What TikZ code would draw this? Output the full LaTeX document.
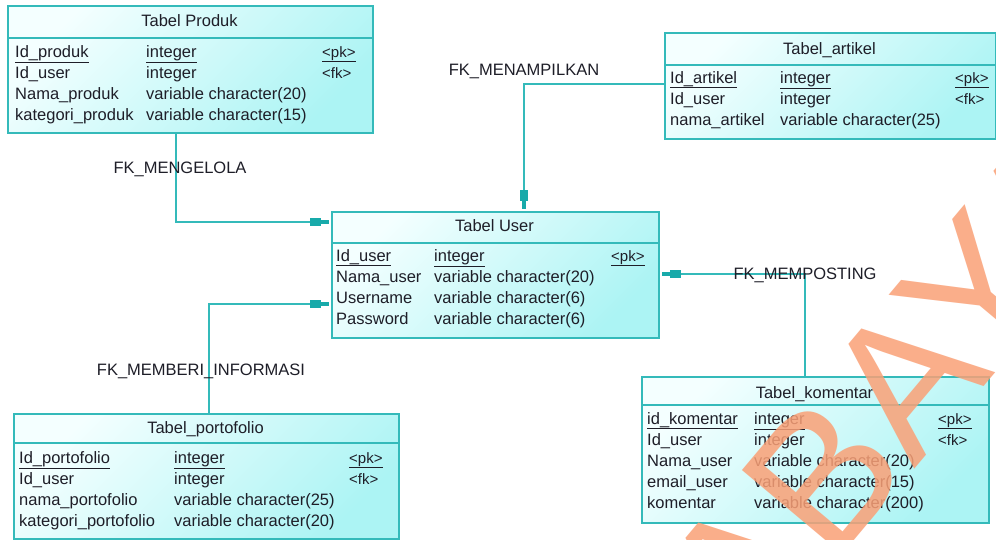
\documentclass[tikz,border=0pt]{standalone}
\usepackage{fontspec}
\setmainfont{Liberation Sans}
\usetikzlibrary{arrows.meta}

\definecolor{erline}{RGB}{52,186,186}
\definecolor{erarrow}{RGB}{24,170,170}
\definecolor{erfilltop}{RGB}{244,255,255}
\definecolor{erfillbot}{RGB}{172,244,244}
\definecolor{ertext}{RGB}{30,30,40}
\definecolor{wmorange}{RGB}{250,160,118}

\begin{document}
\begin{tikzpicture}[x=1pt,y=-1pt,font=\fontsize{16.5}{21}\selectfont]
    % `entity' is the shaded box of one table.
    % `rows' holds the columns of a table, set at the first baseline.
    % `fk' is used for the foreign key connectors.
    \tikzstyle{entity} = [draw=erline,line width=1.6pt,top color=erfilltop,bottom color=erfillbot,shading angle=45,anchor=north west,inner sep=0pt]
    \tikzstyle{headline} = [draw=erline,line width=1.6pt]
    \tikzstyle{title} = [anchor=base,text=ertext,inner sep=0pt]
    \tikzstyle{rows} = [anchor=base west,text=ertext,inner sep=0pt]
    \tikzstyle{fklabel} = [anchor=base,text=ertext,inner sep=0pt]
    \tikzstyle{fk} = [draw=erline,line width=1.6pt,shorten >=2pt,
      -{Rectangle[length=11pt,width=8pt,color=erarrow]Rectangle[length=8pt,width=4pt,color=erarrow]}]
    \tikzstyle{watermark} = [text=wmorange,opacity=0.85,rotate=50,inner sep=0pt,font=\fontsize{190}{190}\selectfont]
    %
    \useasboundingbox (0,0) rectangle (996,539);
    \clip (0,0) rectangle (996,539);
    \fill[white] (0,0) rectangle (996,539);

    % Tabel Produk
    \node[entity,minimum width=365pt,minimum height=127pt] (produk) at (7,5) {};
    \draw[headline] (produk.west |- 0,38) -- (produk.east |- 0,38);
    \node[title] (produk-title) at (189.5,26) {Tabel Produk};
    \node[rows] (produk-rows) at (15,57) {\begin{tabular}[t]{@{}p{131pt}@{}p{176pt}@{}l@{}}
      \underline{Id\_produk} & \underline{integer} & {\fontsize{15}{21}\selectfont\underline{<pk>}} \\
      Id\_user & integer & {\fontsize{15}{21}\selectfont <fk>} \\
      Nama\_produk & variable character(20) & \\
      kategori\_produk & variable character(15) &
    \end{tabular}};

    % Tabel_artikel
    \node[entity,minimum width=331pt,minimum height=106pt] (artikel) at (664,32) {};
    \draw[headline] (artikel.west |- 0,65) -- (artikel.east |- 0,65);
    \node[title] (artikel-title) at (829.5,54) {Tabel\_artikel};
    \node[rows] (artikel-rows) at (670,83) {\begin{tabular}[t]{@{}p{110pt}@{}p{175pt}@{}l@{}}
      \underline{Id\_artikel} & \underline{integer} & {\fontsize{15}{21}\selectfont\underline{<pk>}} \\
      Id\_user & integer & {\fontsize{15}{21}\selectfont <fk>} \\
      nama\_artikel & variable character(25) &
    \end{tabular}};

    % Tabel User
    \node[entity,minimum width=327pt,minimum height=126pt] (user) at (331,211) {};
    \draw[headline] (user.west |- 0,243) -- (user.east |- 0,243);
    \node[title] (user-title) at (494.5,231) {Tabel User};
    \node[rows] (user-rows) at (336,261) {\begin{tabular}[t]{@{}p{98pt}@{}p{177pt}@{}l@{}}
      \underline{Id\_user} & \underline{integer} & {\fontsize{15}{21}\selectfont\underline{<pk>}} \\
      Nama\_user & variable character(20) & \\
      Username & variable character(6) & \\
      Password & variable character(6) &
    \end{tabular}};

    % Tabel_komentar
    \node[entity,minimum width=347pt,minimum height=146pt] (komentar) at (641,376) {};
    \draw[headline] (komentar.west |- 0,405) -- (komentar.east |- 0,405);
    \node[title] (komentar-title) at (814.5,398) {Tabel\_komentar};
    \node[rows] (komentar-rows) at (647,424) {\begin{tabular}[t]{@{}p{107pt}@{}p{184pt}@{}l@{}}
      \underline{id\_komentar} & \underline{integer} & {\fontsize{15}{21}\selectfont\underline{<pk>}} \\
      Id\_user & integer & {\fontsize{15}{21}\selectfont <fk>} \\
      Nama\_user & variable character(20) & \\
      email\_user & variable character(15) & \\
      komentar & variable character(200) &
    \end{tabular}};

    % Tabel_portofolio
    \node[entity,minimum width=385pt,minimum height=125pt] (portofolio) at (13,413) {};
    \draw[headline] (portofolio.west |- 0,443) -- (portofolio.east |- 0,443);
    \node[title] (portofolio-title) at (205.5,433) {Tabel\_portofolio};
    \node[rows] (portofolio-rows) at (19,463) {\begin{tabular}[t]{@{}p{155pt}@{}p{175pt}@{}l@{}}
      \underline{Id\_portofolio} & \underline{integer} & {\fontsize{15}{21}\selectfont\underline{<pk>}} \\
      Id\_user & integer & {\fontsize{15}{21}\selectfont <fk>} \\
      nama\_portofolio & variable character(25) & \\
      kategori\_portofolio & variable character(20) &
    \end{tabular}};

    % Draw connectors.
    \draw[fk] (produk.south -| 176,0) |- (user.west |- 0,222);
    \draw[fk] (artikel.west |- 0,84) -| (user.north -| 524,0);
    \draw[fk] (komentar.north -| 805,0) |- (user.east |- 0,274);
    \draw[fk] (portofolio.north -| 209,0) |- (user.west |- 0,304);

    % Connector labels.
    \node[fklabel] (lbl-mengelola) at (180,173) {FK\_MENGELOLA};
    \node[fklabel] (lbl-menampilkan) at (524,75) {FK\_MENAMPILKAN};
    \node[fklabel] (lbl-memposting) at (805,279) {FK\_MEMPOSTING};
    \node[fklabel] (lbl-memberi) at (201,375) {FK\_MEMBERI\_INFORMASI};

    % Watermark over the picture.
    \node[watermark] (wm) at (767,543) {SURABAYA};
\end{tikzpicture}
\end{document}
